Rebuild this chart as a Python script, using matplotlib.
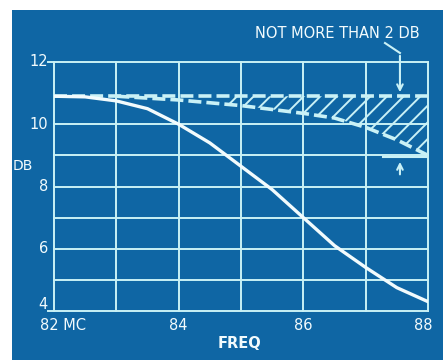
import numpy as np
import matplotlib
matplotlib.use("Agg")
import matplotlib.pyplot as plt
from matplotlib.patches import Rectangle

# data
freq = [82, 82.5, 83, 83.5, 84, 84.5, 85, 85.5, 86, 86.5, 87, 87.5, 88]
response_db = [10.9, 10.88, 10.75, 10.5, 10.0, 9.4, 8.65, 7.9, 7.0, 6.1, 5.4, 4.75, 4.3]

limit_freq = [83, 84, 85, 86, 86.5, 87, 87.5, 88]
limit_low_db = [10.9, 10.78, 10.6, 10.35, 10.2, 9.9, 9.5, 9.0]
limit_top_db = 10.9

x_ticks = [82, 84, 86, 88]
x_labels = ["82 MC", "84", "86", "88"]
y_ticks = [4, 6, 8, 10, 12]
grid_x = [82, 83, 84, 85, 86, 87, 88]
grid_y = [4, 5, 6, 7, 8, 9, 10, 12]

BLUE = "#0f66a4"
LINE = "#c9f1f6"
TXT = "#f2fbfd"

plt.rcParams["hatch.linewidth"] = 1.4

fig = plt.figure(figsize=(4.43, 3.6), dpi=100, facecolor="white")
fig.patches.append(Rectangle((12 / 443, 0), 1, 350 / 360, transform=fig.transFigure,
                             facecolor=BLUE, edgecolor="none", zorder=-10))

ax = fig.add_axes([54 / 443, 1 - 311 / 360, (428 - 54) / 443, (311 - 62) / 360])
ax.set_facecolor(BLUE)
ax.set_xlim(82, 88)
ax.set_ylim(4, 12)
for s in ax.spines.values():
    s.set_visible(False)
ax.set_xticks([])
ax.set_yticks([])

# grid
for gx in grid_x:
    ax.plot([gx, gx], [4, 12], color=LINE, lw=1.4, zorder=1, clip_on=False)
for gy in grid_y:
    ax.plot([82, 88], [gy, gy], color=LINE, lw=1.4, zorder=1, clip_on=False)
ax.plot([81.9, 82], [12, 12], color=LINE, lw=1.4, clip_on=False)
ax.plot([81.9, 82], [4, 4], color=LINE, lw=1.4, clip_on=False)

# hatched tolerance band
hx = np.linspace(84.8, 88, 30)
hy = np.interp(hx, limit_freq, limit_low_db)
ax.fill_between(hx, hy, limit_top_db, facecolor="none",
                edgecolor=LINE, hatch="//", lw=0, zorder=2)

ax.plot([82, 88], [limit_top_db, limit_top_db], color=LINE, lw=2.6,
        dashes=(3.6, 1.4), zorder=3)
ax.plot(limit_freq, limit_low_db, color=LINE, lw=2.6, dashes=(3.6, 1.4), zorder=3)
ax.plot(freq, response_db, color=TXT, lw=2.4, zorder=4, solid_capstyle="round")

# annotation
ax.text(86.54, 12.93, "NOT MORE THAN 2 DB", color=TXT, fontsize=10.5,
        ha="center", va="center", clip_on=False)
ax.plot([87.31, 87.55], [12.61, 12.29], color=LINE, lw=1.5, clip_on=False)
ax.annotate("", xy=(87.55, 10.94), xytext=(87.55, 12.29),
            arrowprops=dict(arrowstyle="->", color=LINE, lw=1.5), annotation_clip=False)
ax.plot([87.28, 87.98], [8.95, 8.95], color=LINE, lw=1.5)
ax.annotate("", xy=(87.55, 8.88), xytext=(87.55, 8.3),
            arrowprops=dict(arrowstyle="->", color=LINE, lw=1.5))

# tick labels
for yv in y_ticks:
    ypos = 4.2 if yv == 4 else yv
    ax.text(81.9, ypos, str(yv), color=TXT, fontsize=10.5, ha="right", va="center")
ax.text(81.5, 8.65, "DB", color=TXT, fontsize=10, ha="center", va="center")
for xv, lab in zip(x_ticks, x_labels):
    if xv == 82:
        ax.text(81.78, 3.55, lab, color=TXT, fontsize=10.5, ha="left", va="center")
    elif xv == 88:
        ax.text(87.92, 3.55, lab, color=TXT, fontsize=10.5, ha="center", va="center")
    else:
        ax.text(xv, 3.55, lab, color=TXT, fontsize=10.5, ha="center", va="center")
ax.text(84.97, 2.96, "FREQ", color=TXT, fontsize=10.5, ha="center", va="center",
        fontweight="bold")

fig.savefig("out.png", dpi=100, facecolor="white")
